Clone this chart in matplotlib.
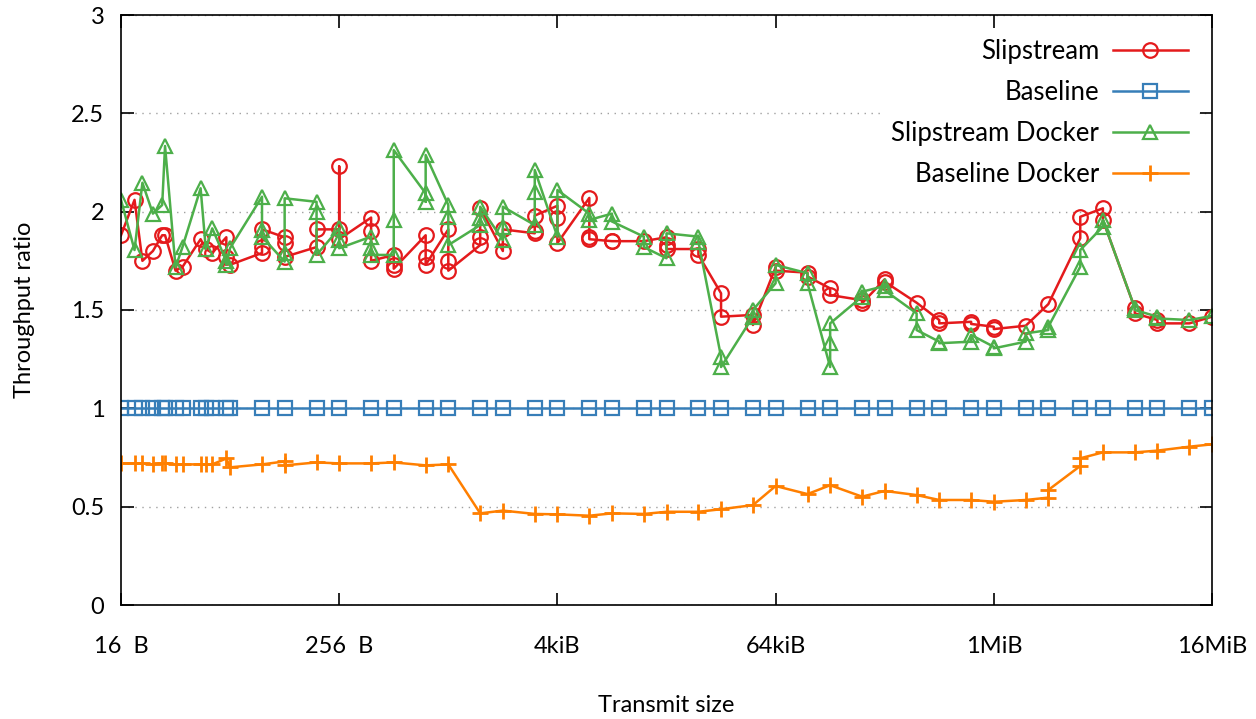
import matplotlib
matplotlib.use('Agg')
import matplotlib.pyplot as plt

plt.rcParams['font.family'] = ['Lato', 'DejaVu Sans']

KiB = 1024
MiB = 1024 * 1024

# transmit sizes in bytes (one entry per measured size)
sizes = [16, 19, 21, 24, 27, 28, 32, 35, 44, 47, 51, 61, 64, 96,
         128, 192, 256, 384, 512, 768, 1024, 1536, 2048, 3072,
         4 * KiB, 6 * KiB, 8 * KiB, 12 * KiB, 16 * KiB, 24 * KiB, 32 * KiB, 48 * KiB,
         64 * KiB, 96 * KiB, 128 * KiB, 192 * KiB, 256 * KiB, 384 * KiB, 512 * KiB, 768 * KiB,
         1 * MiB, 1.5 * MiB, 2 * MiB, 3 * MiB, 4 * MiB, 6 * MiB, 8 * MiB, 12 * MiB, 16 * MiB]

# repeated runs per size, in the order they were plotted
slipstream = [[1.88], [2.06], [1.75], [1.80], [1.88], [1.88], [1.70], [1.72],
              [1.86], [1.81], [1.79], [1.87, 1.77], [1.73], [1.79, 1.82, 1.91],
              [1.87, 1.84, 1.77], [1.82, 1.91], [1.91, 2.23, 1.86], [1.97, 1.90, 1.75],
              [1.78, 1.73, 1.71], [1.88, 1.77, 1.73], [1.91, 1.75, 1.70], [1.83, 1.87, 2.02],
              [1.80, 1.91], [1.89, 1.90, 1.98], [2.03, 1.97, 1.84], [2.07, 1.87, 1.86],
              [1.85, 1.85], [1.85], [1.87, 1.83, 1.81], [1.81, 1.78], [1.585, 1.466],
              [1.475, 1.424], [1.717, 1.70], [1.69, 1.67], [1.61, 1.576], [1.55, 1.534],
              [1.656, 1.644], [1.537], [1.449, 1.432], [1.44, 1.429], [1.415, 1.403],
              [1.42], [1.53], [1.865, 1.974], [2.017, 1.958], [1.509, 1.483],
              [1.449, 1.432], [1.432], [1.466]]

slipstream_docker = [[2.06], [1.805], [2.147], [1.99], [2.034], [2.334], [1.717], [1.822],
                     [2.119], [1.81], [1.915], [1.75, 1.73], [1.815], [2.076, 1.907, 1.873],
                     [1.746, 1.788, 2.068], [2.05, 2.0, 1.78], [1.915, 1.856, 1.814],
                     [1.873, 1.814, 1.78], [1.78, 1.958, 2.313], [2.093, 2.05, 2.288],
                     [2.034, 1.975, 1.83], [1.932, 1.966, 2.025], [1.856, 1.924, 2.025],
                     [1.932, 2.102, 2.212], [1.873, 2.11], [1.99, 1.958], [1.99, 1.95],
                     [1.873, 1.82], [1.763, 1.89], [1.873, 1.847], [1.262, 1.21],
                     [1.466, 1.5], [1.636, 1.729], [1.687, 1.636], [1.21, 1.331, 1.432],
                     [1.568, 1.593], [1.622, 1.6], [1.483, 1.398], [1.339, 1.331],
                     [1.339, 1.373], [1.313, 1.305], [1.339, 1.381], [1.398, 1.415],
                     [1.72, 1.805], [1.924, 1.958], [1.51, 1.5], [1.466, 1.457],
                     [1.449], [1.47]]

baseline_docker = [[0.72], [0.72], [0.72], [0.715], [0.72], [0.72], [0.715], [0.715],
                   [0.715], [0.715], [0.715], [0.745], [0.70], [0.715], [0.73, 0.71],
                   [0.725], [0.72], [0.72], [0.725], [0.71], [0.715], [0.466], [0.48],
                   [0.463], [0.461], [0.454], [0.466], [0.463], [0.474], [0.474],
                   [0.487], [0.508], [0.605], [0.564], [0.609], [0.551], [0.58],
                   [0.559], [0.534], [0.534], [0.525], [0.534], [0.546, 0.585],
                   [0.707, 0.746], [0.776], [0.776], [0.785], [0.805], [0.817]]

baseline = [1.0] * len(sizes)

xtick_vals = [16, 256, 4 * KiB, 64 * KiB, 1 * MiB, 16 * MiB]
xtick_labels = ['16  B', '256  B', '4kiB', '64kiB', '1MiB', '16MiB']


def flatten(runs):
    xs, ys = [], []
    for s, vals in zip(sizes, runs):
        for v in vals:
            xs.append(s)
            ys.append(v)
    return xs, ys


fig = plt.figure(figsize=(12.56, 7.19), dpi=100)
ax = fig.add_axes([121 / 1256, 1 - 605 / 719, (1212 - 121) / 1256, (605 - 15) / 719])

mk = dict(markersize=10.5, markerfacecolor='none', markeredgewidth=1.6, linewidth=1.8)

x, y = flatten(slipstream)
ax.plot(x, y, color='#e41a1c', marker='o', label='Slipstream', **mk)
ax.plot(sizes, baseline, color='#377eb8', marker='s', label='Baseline', **mk)
x, y = flatten(slipstream_docker)
ax.plot(x, y, color='#4daf4a', marker='^', label='Slipstream Docker', **mk)
x, y = flatten(baseline_docker)
ax.plot(x, y, color='#ff7f00', marker='+', label='Baseline Docker',
        markersize=12, markeredgewidth=2, linewidth=1.8)

ax.set_xscale('log', base=2)
ax.set_xlim(16, 16 * MiB)
ax.set_ylim(0, 3)
ax.set_xticks(xtick_vals)
ax.set_xticklabels(xtick_labels)
ax.minorticks_off()
ax.set_yticks([0, 0.5, 1, 1.5, 2, 2.5, 3])
ax.set_yticklabels(['0', '0.5', '1', '1.5', '2', '2.5', '3'])
ax.tick_params(direction='in', length=9, width=1.2, labelsize=17,
               top=True, right=True)
ax.tick_params(axis='x', pad=22)
ax.tick_params(axis='y', pad=12)
ax.yaxis.grid(True, color='#a0a0a0', linestyle=(0, (1, 4)), linewidth=1)
ax.set_axisbelow(True)
for sp in ax.spines.values():
    sp.set_linewidth(1.2)

ax.set_xlabel('Transmit size', fontsize=17, labelpad=28)
ax.set_ylabel('Throughput ratio', fontsize=17, labelpad=26)

leg = ax.legend(loc='upper right', markerfirst=False, fontsize=18.5, frameon=True,
                handlelength=2.9, handletextpad=0.55, labelspacing=0.62,
                borderaxespad=0.5, borderpad=0.45, fancybox=False)
leg.get_frame().set_edgecolor('none')
leg.get_frame().set_facecolor('white')
leg.get_frame().set_alpha(1)

fig.savefig('out.png', dpi=100)
